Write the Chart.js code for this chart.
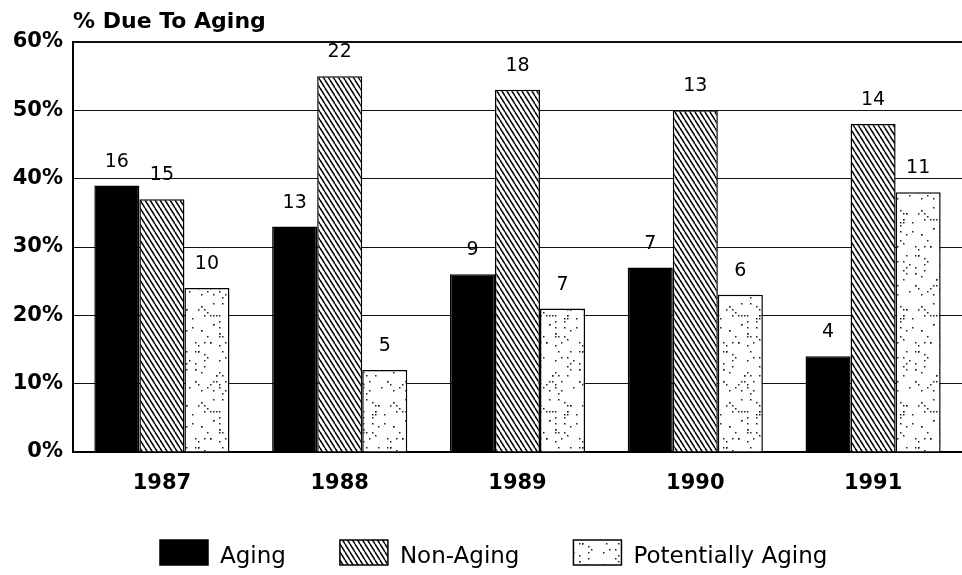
<!DOCTYPE html>
<html lang="en">
<head>
    <meta charset="UTF-8">
    <title>% Due To Aging</title>
    <style>
        body {
            margin: 0;
            padding: 0;
            background: #ffffff;
        }
        .wrap {
            width: 962px;
            height: 575px;
        }
    </style>
</head>
<body>
    <div class="wrap">
        <canvas id="agingChart" width="962" height="575"></canvas>
    </div>
    <script src="https://cdn.jsdelivr.net/npm/chart.js"></script>
    <script>
        // data
        const years = ['1987', '1988', '1989', '1990', '1991'];
        const agingPct = [39, 33, 26, 27, 14];
        const nonAgingPct = [37, 55, 53, 50, 48];
        const potentialPct = [24, 12, 21, 23, 38];
        const agingCount = [16, 13, 9, 7, 4];
        const nonAgingCount = [15, 22, 18, 13, 14];
        const potentialCount = [10, 5, 7, 6, 11];
        const yMax = 60;
        const yStep = 10;

        function hatchPattern(ctx) {
            const c = document.createElement('canvas');
            c.width = 5;
            c.height = 8;
            const g = c.getContext('2d');
            g.fillStyle = '#fff';
            g.fillRect(0, 0, 5, 8);
            g.strokeStyle = '#000';
            g.lineWidth = 1.5;
            for (let k = -1; k <= 1; k++) {
                g.beginPath();
                g.moveTo(k * 5, 0);
                g.lineTo(k * 5 + 5, 8);
                g.stroke();
            }
            return ctx.createPattern(c, 'repeat');
        }

        function stipplePattern(ctx) {
            const c = document.createElement('canvas');
            c.width = 48;
            c.height = 96;
            const g = c.getContext('2d');
            g.fillStyle = '#fff';
            g.fillRect(0, 0, 48, 96);
            g.fillStyle = '#222';
            // fixed texture, not data
            let seed = 7;
            function rnd() {
                seed = (seed * 1103515245 + 12345) % 2147483648;
                return seed / 2147483648;
            }
            for (let i = 0; i < 85; i++) {
                const x = Math.floor(rnd() * 16) * 3;
                const y = Math.floor(rnd() * 32) * 3;
                g.fillRect(x, y, 1.5, 1.5);
            }
            return ctx.createPattern(c, 'repeat');
        }

        const labelPlugin = {
            id: 'countLabels',
            afterDatasetsDraw(chart) {
                const ctx = chart.ctx;
                ctx.save();
                ctx.font = '19px "DejaVu Sans"';
                ctx.fillStyle = '#000';
                ctx.textAlign = 'center';
                ctx.textBaseline = 'alphabetic';
                chart.data.datasets.forEach((ds, i) => {
                    const meta = chart.getDatasetMeta(i);
                    meta.data.forEach((bar, j) => {
                        ctx.fillText(ds.counts[j], bar.x, bar.y - 19);
                    });
                });
                ctx.restore();
            },
            afterDraw(chart) {
                const ctx = chart.ctx;
                ctx.save();
                ctx.fillStyle = '#000';
                ctx.font = 'bold 22px "DejaVu Sans"';
                ctx.textAlign = 'left';
                ctx.textBaseline = 'alphabetic';
                ctx.fillText('% Due To Aging', 73, 28);

                // legend
                ctx.font = '23px "DejaVu Sans"';
                let x = 160;
                const boxW = 48, boxH = 25, top = 540;
                chart.data.datasets.forEach(ds => {
                    ctx.fillStyle = ds.backgroundColor;
                    ctx.fillRect(x, top, boxW, boxH);
                    ctx.strokeStyle = '#000';
                    ctx.lineWidth = 1.5;
                    ctx.strokeRect(x, top, boxW, boxH);
                    ctx.fillStyle = '#000';
                    ctx.fillText(ds.label, x + boxW + 12, 563);
                    x += boxW + 12 + ctx.measureText(ds.label).width + 54;
                });
                ctx.restore();
            }
        };

        const ctx = document.getElementById('agingChart').getContext('2d');
        new Chart(ctx, {
            type: 'bar',
            data: {
                labels: years,
                datasets: [
                    {
                        label: 'Aging',
                        data: agingPct,
                        counts: agingCount,
                        backgroundColor: '#000',
                        borderColor: '#000',
                        borderWidth: 1.5
                    },
                    {
                        label: 'Non-Aging',
                        data: nonAgingPct,
                        counts: nonAgingCount,
                        backgroundColor: hatchPattern(ctx),
                        borderColor: '#000',
                        borderWidth: 1.5
                    },
                    {
                        label: 'Potentially Aging',
                        data: potentialPct,
                        counts: potentialCount,
                        backgroundColor: stipplePattern(ctx),
                        borderColor: '#000',
                        borderWidth: 1.5
                    }
                ]
            },
            options: {
                responsive: false,
                animation: false,
                layout: {
                    padding: { top: 42, right: 0, bottom: 0, left: 0 }
                },
                datasets: {
                    bar: {
                        barPercentage: 1,
                        categoryPercentage: 0.76
                    }
                },
                scales: {
                    x: {
                        afterFit: function(scale) { scale.height = 123; },
                        grid: { display: false },
                        border: { display: true, color: '#000', width: 2 },
                        ticks: {
                            color: '#000',
                            padding: 11,
                            font: { family: 'DejaVu Sans', size: 21, weight: 'bold' }
                        }
                    },
                    y: {
                        min: 0,
                        max: yMax,
                        afterFit: function(scale) { scale.width = 73; },
                        border: { display: true, color: '#000', width: 2 },
                        grid: {
                            color: '#111',
                            drawTicks: false,
                            lineWidth: function(c) {
                                return c.tick && c.tick.value === yMax ? 2 : 1;
                            }
                        },
                        ticks: {
                            stepSize: yStep,
                            color: '#000',
                            padding: 10,
                            font: { family: 'DejaVu Sans', size: 21, weight: 'bold' },
                            callback: function(value) {
                                return value + '%';
                            }
                        }
                    }
                },
                plugins: {
                    legend: { display: false },
                    tooltip: { enabled: false }
                }
            },
            plugins: [labelPlugin]
        });
    </script>
</body>
</html>
